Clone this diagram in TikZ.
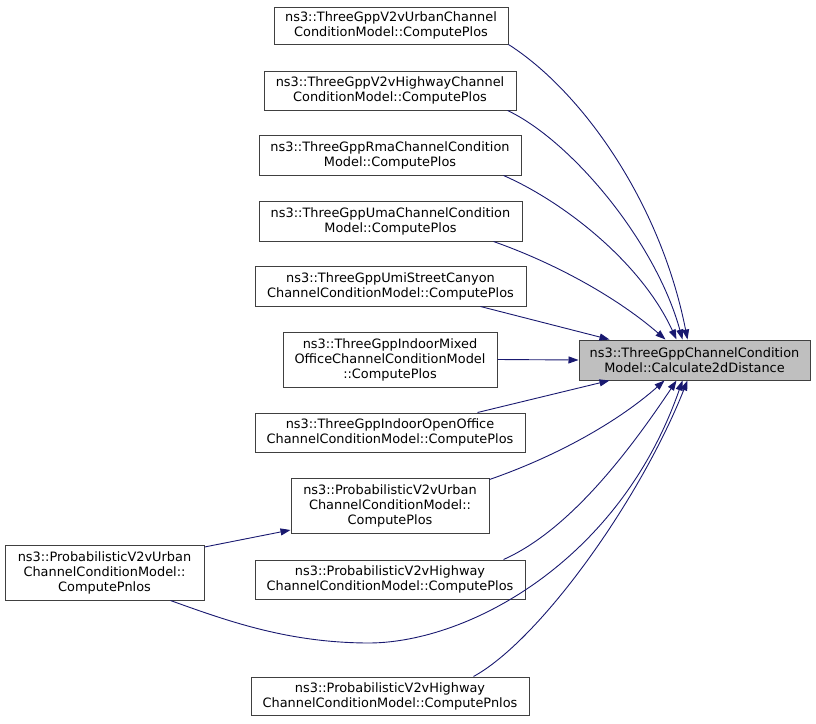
\documentclass[tikz,border=0pt]{standalone}
\usepackage{fontspec}
\setmainfont{DejaVu Sans}
\usetikzlibrary{arrows.meta}
\definecolor{edgecol}{HTML}{191970}
\definecolor{boxline}{HTML}{404040}
\definecolor{hifill}{HTML}{BFBFBF}
\tikzset{
  box/.style={draw=boxline, line width=1pt, fill=white, align=center, inner sep=0pt,
    font=\fontsize{12.9}{15}\selectfont},
  hibox/.style={box, fill=hifill},
  link/.style={draw=edgecol, line width=0.9pt, -{Triangle[length=10pt,width=7pt]}}
}
\begin{document}
\begin{tikzpicture}[x=1pt,y=-1pt]
\useasboundingbox (0,0) rectangle (816,723);
\node[hibox, minimum width=231, minimum height=40] (t) at (694.5,360) {ns3::ThreeGppChannelCondition\\Model::Calculate2dDistance};
\node[box, minimum width=234, minimum height=37] (n1) at (391,25.5) {ns3::ThreeGppV2vUrbanChannel\\ConditionModel::ComputePlos};
\node[box, minimum width=252, minimum height=39] (n2) at (390,90.5) {ns3::ThreeGppV2vHighwayChannel\\ConditionModel::ComputePlos};
\node[box, minimum width=262, minimum height=40] (n3) at (390,155) {ns3::ThreeGppRmaChannelCondition\\Model::ComputePlos};
\node[box, minimum width=263, minimum height=40] (n4) at (390.5,221) {ns3::ThreeGppUmaChannelCondition\\Model::ComputePlos};
\node[box, minimum width=271, minimum height=40] (n5) at (390.5,286) {ns3::ThreeGppUmiStreetCanyon\\ChannelConditionModel::ComputePlos};
\node[box, minimum width=214, minimum height=55] (n6) at (390,359.5) {ns3::ThreeGppIndoorMixed\\OfficeChannelConditionModel\\::ComputePlos};
\node[box, minimum width=270, minimum height=39] (n7) at (390,432.5) {ns3::ThreeGppIndoorOpenOffice\\ChannelConditionModel::ComputePlos};
\node[box, minimum width=198, minimum height=55] (n8) at (390,505.5) {ns3::ProbabilisticV2vUrban\\ChannelConditionModel::\\ComputePlos};
\node[box, minimum width=270, minimum height=39] (n9) at (390,579.5) {ns3::ProbabilisticV2vHighway\\ChannelConditionModel::ComputePlos};
\node[box, minimum width=278, minimum height=38] (n10) at (390,696) {ns3::ProbabilisticV2vHighway\\ChannelConditionModel::ComputePnlos};
\node[box, minimum width=199, minimum height=55] (n11) at (104.5,572.5) {ns3::ProbabilisticV2vUrban\\ChannelConditionModel::\\ComputePnlos};
\coordinate (low) at (370,643);

\draw[link] (n1.south east) .. controls (580,90) and (660,200) .. ([xshift=109pt]t.north west);
\draw[link] ([xshift=-9pt]n2.south east) .. controls (570,140) and (655,240) .. ([xshift=104pt]t.north west);
\draw[link] ([xshift=-18pt]n3.south east) .. controls (560,200) and (640,260) .. ([xshift=98pt]t.north west);
\draw[link] ([xshift=-29pt]n4.south east) .. controls (560,265) and (620,300) .. ([xshift=87pt]t.north west);
\draw[link] ([xshift=-46pt]n5.south east) -- ([xshift=31pt]t.north west);
\draw[link] (n6.east) -- (t.west);
\draw[link] ([xshift=-48pt]n7.north east) -- ([xshift=31pt]t.south west);
\draw[link] ([yshift=-2pt]n8.north east) .. controls (560,455) and (620,420) .. ([xshift=86pt]t.south west);
\draw[link] ([xshift=-22pt]n9.north east) .. controls (570,530) and (630,450) .. ([xshift=98pt]t.south west);
\draw[link] ([xshift=-56pt]n10.north east) .. controls (540,640) and (640,500) .. ([xshift=109pt]t.south west);
\draw[link] ([xshift=-34pt]n11.south east) .. controls (230,622) and (290,643) .. (low) .. controls (470,642) and (620,560) .. ([xshift=104pt]t.south west);
\draw[link] ([yshift=25.5pt]n11.east) -- ([yshift=-24.5pt]n8.west);
\end{tikzpicture}
\end{document}
